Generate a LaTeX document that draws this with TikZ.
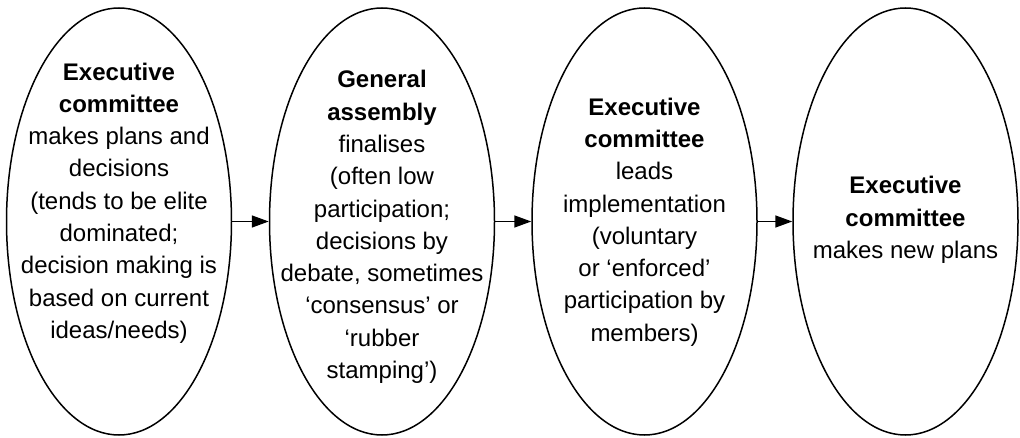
\documentclass[tikz,border=0pt]{standalone}
\usepackage{fontspec}
\setmainfont{Liberation Sans}
\usetikzlibrary{shapes.geometric,arrows.meta}
\begin{document}
\begin{tikzpicture}[x=1pt,y=1pt,
  oval/.style={draw, ellipse, line width=1.5pt, minimum width=225pt, minimum height=427pt, inner sep=0pt},
  txt/.style={align=center, font=\fontsize{24}{32.3}\selectfont, inner sep=0pt},
  arr/.style={line width=1.5pt, -{Triangle[length=17pt,width=12pt]}}]
\useasboundingbox (0,0) rectangle (1020,-438);
\node[oval] (e1) at (119,-221.5) {};
\node[oval] (e2) at (382,-221.5) {};
\node[oval] (e3) at (644.5,-221.5) {};
\node[oval] (e4) at (905.5,-221.5) {};
\node[txt] (t1) at (119,-203) {\textbf{Executive}\\\textbf{committee}\\makes plans and\\decisions\\(tends to be elite\\dominated;\\decision making is\\based on current\\ideas/needs)};
\node[txt] (t2) at (382,-227) {\textbf{General}\\\textbf{assembly}\\finalises\\(often low\\participation;\\decisions by\\debate, sometimes\\‘consensus’ or\\‘rubber\\stamping’)};
\node[txt] (t3) at (644.5,-222) {\textbf{Executive}\\\textbf{committee}\\leads\\implementation\\(voluntary\\or ‘enforced’\\participation by\\members)};
\node[txt] (t4) at (905.5,-220) {\textbf{Executive}\\\textbf{committee}\\makes new plans};
\draw[arr] (e1.east) -- (e2.west);
\draw[arr] (e2.east) -- (e3.west);
\draw[arr] (e3.east) -- (e4.west);
\end{tikzpicture}
\end{document}
